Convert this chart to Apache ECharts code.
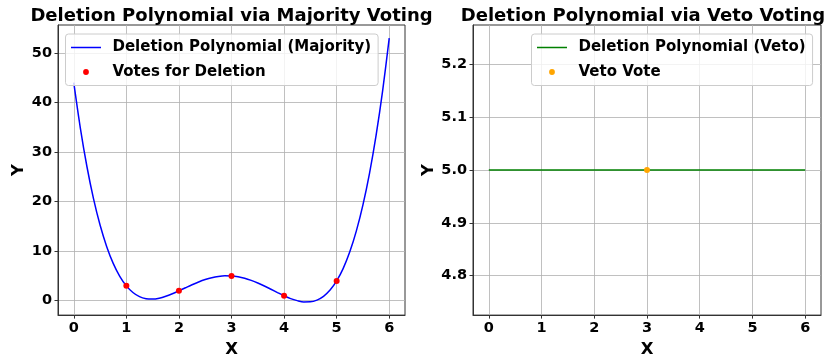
<!DOCTYPE html>
<html>
<head>
<meta charset="utf-8">
<script src="https://cdn.jsdelivr.net/npm/echarts@6/dist/echarts.min.js"></script>
<style>html,body{margin:0;padding:0;background:#fff}#c{width:829px;height:363px}</style>
</head>
<body>
<div id="c"></div>
<script>
// Majority-vote deletion polynomial
const curveX = [0, 0.125, 0.25, 0.375, 0.5, 0.625, 0.75, 0.875, 1, 1.125, 1.25, 1.375, 1.5, 1.625, 1.75, 1.875,
  2, 2.125, 2.25, 2.375, 2.5, 2.625, 2.75, 2.875, 3, 3.125, 3.25, 3.375, 3.5, 3.625, 3.75, 3.875,
  4, 4.125, 4.25, 4.375, 4.5, 4.625, 4.75, 4.875, 5, 5.125, 5.25, 5.375, 5.5, 5.625, 5.75, 5.875, 6];
const curveY = [44, 34.84, 27.09, 20.61, 15.27, 10.96, 7.54, 4.93, 3, 1.67, 0.83, 0.42, 0.34, 0.52, 0.9, 1.41,
  2, 2.62, 3.23, 3.79, 4.27, 4.65, 4.9, 5.02, 5, 4.84, 4.54, 4.11, 3.59, 2.98, 2.32, 1.65,
  1, 0.43, 0.02, -0.25, -0.23, 0.13, 0.89, 2.15, 4, 6.54, 9.87, 14.09, 19.34, 25.72, 33.37, 42.41, 53];
const voteX = [1, 2, 3, 4, 5];
const voteY = [3, 2, 5, 1, 4];
// Veto deletion polynomial
const vetoLineX = [0, 6];
const vetoLineY = [5, 5];
const vetoX = [3];
const vetoY = [5];
// ticks
const xTicks = [0, 1, 2, 3, 4, 5, 6];
const yTicksLeft = [0, 10, 20, 30, 40, 50];
const yTicksRight = [4.8, 4.9, 5.0, 5.1, 5.2];

const FONT = 'DejaVu Sans';
const zip = (a, b) => a.map((v, i) => [v, b[i]]);
const dotIcon = 'path://M0,0L0.01,0M30,0L30.01,0M0,14L0.01,14M30,14L30.01,14M12.1,7a2.9,2.9 0 1,0 5.8,0a2.9,2.9 0 1,0 -5.8,0';
const lineIcon = 'path://M0,0L0.01,0M30,0L30.01,0M0,14L0.01,14M30,14L30.01,14M0,6.3L30,6.3L30,7.7L0,7.7Z';

function xAxisFor(gi) {
  return {
    type: 'value', gridIndex: gi, min: -0.3, max: 6.3,
    name: 'X', nameLocation: 'middle', nameGap: 24,
    nameTextStyle: { fontFamily: FONT, fontWeight: 'bold', fontSize: 16.5, color: '#000' },
    axisLine: { show: true, onZero: false, lineStyle: { color: '#333', width: 1 } },
    axisTick: { show: true, inside: false, length: 3.5, lineStyle: { color: '#333' }, customValues: xTicks },
    axisLabel: { customValues: xTicks, margin: 6, fontFamily: FONT, fontWeight: 'bold', fontSize: 14.5, color: '#000' },
    splitLine: { show: true, lineStyle: { color: '#b0b0b0', width: 0.8 } }
  };
}
function yAxisFor(gi, min, max, ticks, fmt, gap) {
  return {
    type: 'value', gridIndex: gi, min: min, max: max,
    name: 'Y', nameLocation: 'middle', nameGap: gap, nameRotate: 90,
    nameTextStyle: { fontFamily: FONT, fontWeight: 'bold', fontSize: 16.5, color: '#000' },
    axisLine: { show: true, onZero: false, lineStyle: { color: '#333', width: 1 } },
    axisTick: { show: true, inside: false, length: 3.5, lineStyle: { color: '#333' }, customValues: ticks },
    axisLabel: { customValues: ticks, margin: 6, formatter: fmt, fontFamily: FONT, fontWeight: 'bold', fontSize: 14.5, color: '#000' },
    splitLine: { show: true, lineStyle: { color: '#b0b0b0', width: 0.8 } }
  };
}
function legendFor(left, names) {
  return {
    left: left, top: 34, orient: 'vertical',
    itemWidth: 30, itemHeight: 14, itemGap: 9.5,
    padding: [6, 7, 6, 5.5],
    borderColor: '#cccccc', borderWidth: 1, borderRadius: 3,
    backgroundColor: 'rgba(255,255,255,0.8)',
    textStyle: { fontFamily: FONT, fontWeight: 'bold', fontSize: 15, color: '#000', padding: [0, 0, 0, 6.5] },
    data: [
      { name: names[0], icon: lineIcon },
      { name: names[1], icon: dotIcon }
    ]
  };
}

const chart = echarts.init(document.getElementById('c'), null, { renderer: 'canvas' });
chart.setOption({
  animation: false,
  backgroundColor: '#fff',
  title: [
    { text: 'Deletion Polynomial via Majority Voting', left: 226.5, textAlign: 'center', top: 2,
      textStyle: { fontFamily: FONT, fontWeight: 'bold', fontSize: 18, color: '#000' } },
    { text: 'Deletion Polynomial via Veto Voting', left: 638, textAlign: 'center', top: 2,
      textStyle: { fontFamily: FONT, fontWeight: 'bold', fontSize: 18, color: '#000' } }
  ],
  grid: [
    { left: 58, right: 424, top: 25, bottom: 44, show: true, borderColor: '#333', borderWidth: 1, containLabel: false },
    { left: 473, right: 8, top: 25, bottom: 44, show: true, borderColor: '#333', borderWidth: 1, containLabel: false }
  ],
  legend: [
    legendFor(65.5, ['Deletion Polynomial (Majority)', 'Votes for Deletion']),
    legendFor(531.5, ['Deletion Polynomial (Veto)', 'Veto Vote'])
  ],
  xAxis: [xAxisFor(0), xAxisFor(1)],
  yAxis: [
    yAxisFor(0, -2.9, 55.65, yTicksLeft, v => String(Math.round(v)), 31),
    yAxisFor(1, 4.725, 5.275, yTicksRight, v => v.toFixed(1), 35)
  ],
  series: [
    { name: 'Deletion Polynomial (Majority)', type: 'line', xAxisIndex: 0, yAxisIndex: 0,
      data: zip(curveX, curveY), smooth: 0.3, showSymbol: false, symbol: 'none',
      lineStyle: { color: '#0000ff', width: 1.5 }, itemStyle: { color: '#0000ff' }, z: 2 },
    { name: 'Votes for Deletion', type: 'scatter', xAxisIndex: 0, yAxisIndex: 0,
      data: zip(voteX, voteY), symbolSize: 6, itemStyle: { color: '#ff0000', opacity: 1 }, z: 3 },
    { name: 'Deletion Polynomial (Veto)', type: 'line', xAxisIndex: 1, yAxisIndex: 1,
      data: zip(vetoLineX, vetoLineY), showSymbol: false, symbol: 'none',
      lineStyle: { color: '#008000', width: 1.5 }, itemStyle: { color: '#008000' }, z: 2 },
    { name: 'Veto Vote', type: 'scatter', xAxisIndex: 1, yAxisIndex: 1,
      data: zip(vetoX, vetoY), symbolSize: 6, itemStyle: { color: '#ffa500', opacity: 1 }, z: 3 }
  ]
});
</script>
</body>
</html>
